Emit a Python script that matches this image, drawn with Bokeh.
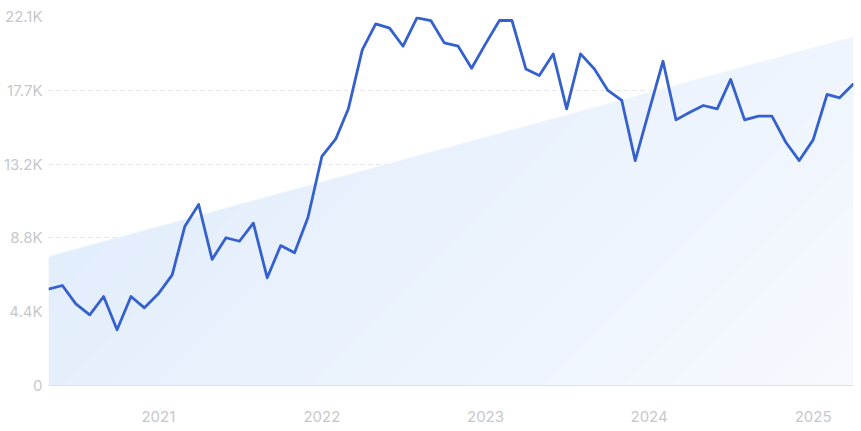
from bokeh.plotting import figure
from bokeh.models import FixedTicker, Range1d, ColumnDataSource
from bokeh.embed import file_html
from bokeh.resources import INLINE
import numpy as np
import pandas as pd

# Monthly data, May 2020 .. Apr 2025 (thousands)
start_month = "2020-05-01"
values = [5.77, 5.99, 4.89, 4.23, 5.33, 3.34, 5.33, 4.65, 5.49, 6.63,
          9.52, 10.84, 7.55, 8.85, 8.64, 9.72, 6.45, 8.38, 7.95, 10.08,
          13.73, 14.77, 16.57, 20.10, 21.66, 21.40, 20.32, 22.02, 21.86, 20.52,
          20.32, 19.00, 20.46, 21.86, 21.86, 18.96, 18.57, 19.86, 16.57, 19.86,
          18.96, 17.67, 17.07, 13.47, 16.47, 19.42, 15.91, 16.37, 16.77, 16.57,
          18.33, 15.91, 16.13, 16.13, 14.57, 13.47, 14.71, 17.43, 17.23, 18.07]
values = [v * 1000 for v in values]

# linear trend (start / end values)
trend_start = 7730
trend_end = 20900

y_max = 22100
y_ticks = [0, 4420, 8840, 13260, 17680, 22100]
y_labels = ["0", "4.4K", "8.8K", "13.2K", "17.7K", "22.1K"]
x_years = ["2021", "2022", "2023", "2024", "2025"]

dates = pd.date_range(start_month, periods=len(values), freq="MS")
src = ColumnDataSource(dict(x=dates, y=values))

FW, FH = 805, 369
p = figure(frame_width=FW, frame_height=FH, x_axis_type="datetime",
           output_backend="svg", toolbar_location=None,
           min_border_left=48, min_border_right=6, min_border_top=16, min_border_bottom=40)
x0 = dates[0].value / 1e6
x1 = dates[-1].value / 1e6
p.x_range = Range1d(x0, x1)
p.y_range = Range1d(0, y_max)

# gradient-filled trend area (image masked below the trend line)
W, H = FW, FH
cols = np.arange(W)[None, :]
rows = np.arange(H)[:, None]
yv = (rows + 0.5) / H * y_max
tr = trend_start + (cols + 0.5) / W * (trend_end - trend_start)
alpha = np.clip((tr - yv) / (y_max / H) + 0.5, 0, 1)
s = cols + (H - 1 - rows)
t = np.clip((s - 240) / (W + H - 240), 0, 1)
c1 = np.array([0xE3, 0xEE, 0xFC])
c2 = np.array([0xF7, 0xFA, 0xFF])
r = (c1[0] + t * (c2[0] - c1[0])).astype(np.uint32)
g = (c1[1] + t * (c2[1] - c1[1])).astype(np.uint32)
b = (c1[2] + t * (c2[2] - c1[2])).astype(np.uint32)
a = (alpha * 255).astype(np.uint32)
img = (a << 24) | (b << 16) | (g << 8) | r
p.image_rgba(image=[img.astype(np.uint32)], x=x0, y=0, dw=x1 - x0, dh=y_max)

p.line("x", "y", source=src, line_color="#3561cf", line_width=2.8, line_join="round")

p.outline_line_color = None
p.background_fill_color = "white"
p.border_fill_color = "white"

p.xgrid.grid_line_color = None
p.ygrid.ticker = FixedTicker(ticks=y_ticks[1:])
p.ygrid.grid_line_color = "#dfe3e9"
p.ygrid.grid_line_dash = "4 4"
p.ygrid.grid_line_width = 1

label_color = "#c6c8cc"

p.yaxis.ticker = FixedTicker(ticks=y_ticks)
p.yaxis.major_label_overrides = {t_: l for t_, l in zip(y_ticks, y_labels)}
p.yaxis.axis_line_color = None
p.yaxis.major_tick_line_color = None
p.yaxis.minor_tick_line_color = None
p.yaxis.major_tick_out = 0
p.yaxis.major_tick_in = 0
p.yaxis.major_label_standoff = 6
p.yaxis.major_label_text_font = "Inter"
p.yaxis.major_label_text_font_size = "15px"
p.yaxis.major_label_text_color = label_color

year_ts = [pd.Timestamp(y + "-01-01").value / 1e6 for y in x_years]
p.xaxis.ticker = FixedTicker(ticks=year_ts)
p.xaxis.major_label_overrides = {t_: l for t_, l in zip(year_ts, x_years)}
p.xaxis.axis_line_color = "#dde3ec"
p.xaxis.major_tick_line_color = None
p.xaxis.minor_tick_line_color = None
p.xaxis.major_tick_out = 0
p.xaxis.major_tick_in = 0
p.xaxis.major_label_standoff = 25
p.xaxis.major_label_text_font = "Inter"
p.xaxis.major_label_text_font_size = "15px"
p.xaxis.major_label_text_color = label_color

open("out.html", "w").write(file_html(p, INLINE))
